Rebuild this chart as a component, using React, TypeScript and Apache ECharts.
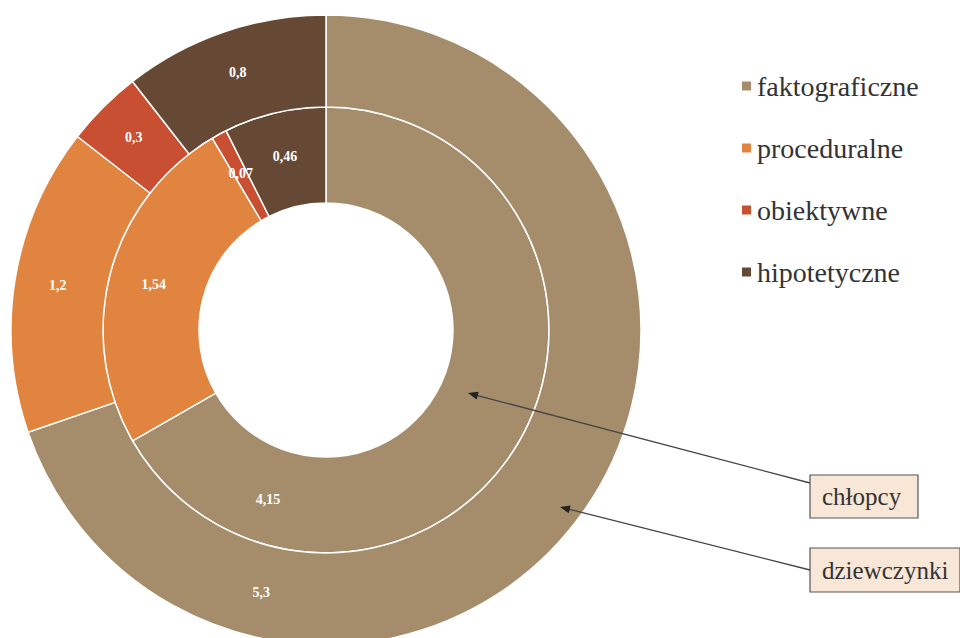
import React, { useEffect, useRef } from "react";
import * as echarts from "echarts";

const categories = ["faktograficzne", "proceduralne", "obiektywne", "hipotetyczne"];
const girls = [5.3, 1.2, 0.3, 0.8]; // dziewczynki (outer ring)
const boys = [4.15, 1.54, 0.07, 0.46]; // chłopcy (inner ring)
const colors = ["#A58D6C", "#E0843F", "#C84F31", "#664935"];
const annotations = ["chłopcy", "dziewczynki"];

const FONT = "Liberation Serif";

function fmt(v: number) {
  return String(v).replace(".", ",");
}

function arrow(x1: number, y1: number, x2: number, y2: number) {
  const dx = x2 - x1;
  const dy = y2 - y1;
  const len = Math.sqrt(dx * dx + dy * dy);
  const ux = dx / len;
  const uy = dy / len;
  const L = 10;
  const W = 4;
  const bx = x2 - ux * L;
  const by = y2 - uy * L;
  return [
    {
      type: "line",
      shape: { x1, y1, x2: bx, y2: by },
      style: { stroke: "#444", lineWidth: 1.3 },
      z: 10,
    },
    {
      type: "polygon",
      shape: {
        points: [
          [x2, y2],
          [bx - uy * W, by + ux * W],
          [bx + uy * W, by - ux * W],
        ],
      },
      style: { fill: "#222" },
      z: 10,
    },
  ];
}

function box(x: number, y: number, w: number, h: number, label: string) {
  return {
    type: "group",
    z: 10,
    children: [
      {
        type: "rect",
        shape: { x, y, width: w, height: h },
        style: { fill: "#F8E6D6", stroke: "#555", lineWidth: 1.2 },
      },
      {
        type: "text",
        x: x + 12,
        y: y + h / 2,
        style: {
          text: label,
          fontFamily: FONT,
          fontSize: 25,
          fill: "#333",
          verticalAlign: "middle",
          align: "left",
        },
      },
    ],
  };
}

export default function App() {
  const ref = useRef<HTMLDivElement>(null);
  useEffect(() => {
    if (!ref.current) return;
    const chart = echarts.init(ref.current, null, { renderer: "svg" });
    const labelStyle = {
      show: true,
      position: "inside",
      color: "#fff",
      fontFamily: FONT,
      fontWeight: "bold",
      fontSize: 14,
      formatter: (p: any) => fmt(p.value),
    };
    const bigOffsetsOuter = [[-286, 104], [0, 0], [0, 0], [0, 0]];
    const bigOffsetsInner = [[-212, 80], [0, 0], [0, 0], [0, 0]];
    chart.setOption({
      animation: false,
      color: colors,
      textStyle: { fontFamily: FONT },
      legend: {
        orient: "vertical",
        left: 735,
        top: 67,
        icon: "rect",
        itemWidth: 11,
        itemHeight: 11,
        itemGap: 34,
        data: categories,
        textStyle: { fontFamily: FONT, fontSize: 28, color: "#333" },
      },
      series: [
        {
          name: "chłopcy",
          type: "pie",
          center: [326, 330],
          radius: [127, 223],
          startAngle: 90,
          clockwise: true,
          label: labelStyle,
          labelLine: { show: false },
          itemStyle: { borderColor: "#fff", borderWidth: 1.5 },
          emphasis: { disabled: true },
          data: categories.map((c, i) => ({
            name: c,
            value: boys[i],
            label: { offset: bigOffsetsInner[i] },
          })),
        },
        {
          name: "dziewczynki",
          type: "pie",
          center: [326, 330],
          radius: [223, 315],
          startAngle: 90,
          clockwise: true,
          label: labelStyle,
          labelLine: { show: false },
          itemStyle: { borderColor: "#fff", borderWidth: 1.5 },
          emphasis: { disabled: true },
          data: categories.map((c, i) => ({
            name: c,
            value: girls[i],
            label: { offset: bigOffsetsOuter[i] },
          })),
        },
      ],
      graphic: [
        ...arrow(810, 483, 468, 393),
        ...arrow(810, 570, 560, 507),
        box(810, 475, 108, 43, annotations[0]),
        box(810, 548, 150, 44, annotations[1]),
      ],
    });
    return () => chart.dispose();
  }, []);
  return (
    <div
      ref={ref}
      style={{ position: "absolute", left: 0, top: 0, width: 960, height: 638 }}
    />
  );
}
